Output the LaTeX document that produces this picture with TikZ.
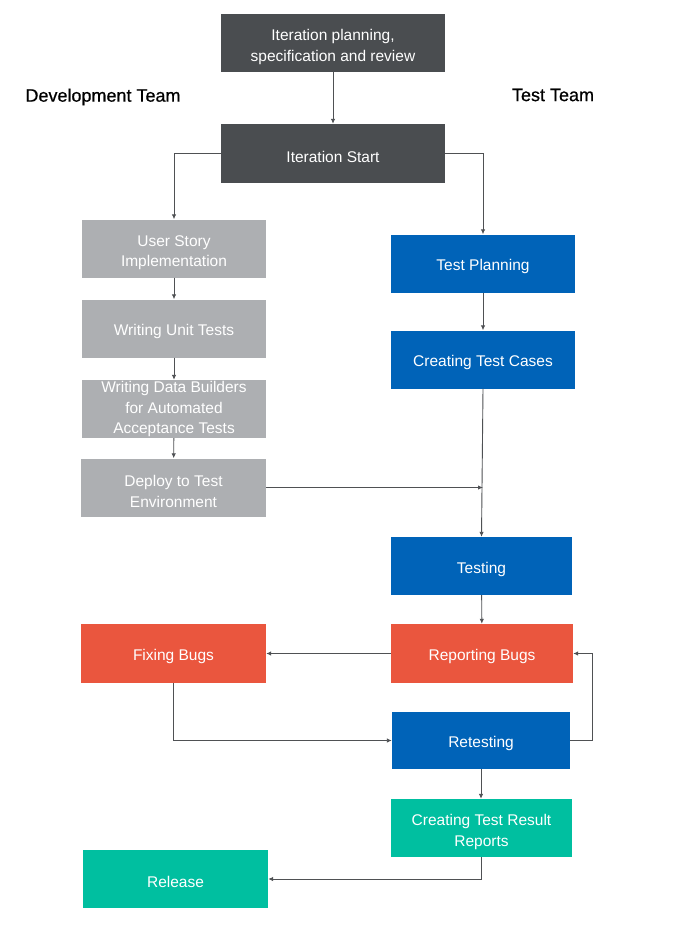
\documentclass[tikz,border=0pt]{standalone}
\usepackage{fontspec}
\setmainfont{Liberation Sans}
\usetikzlibrary{arrows.meta}
\definecolor{cdark}{HTML}{4A4D50}
\definecolor{cgray}{HTML}{ADAFB2}
\definecolor{cblue}{HTML}{0063B8}
\definecolor{cred}{HTML}{EA563E}
\definecolor{cteal}{HTML}{00BFA0}
\definecolor{cline}{HTML}{4F5154}
\newcommand{\upstrut}{\rule{0pt}{19.5pt}}
\begin{document}
\begin{tikzpicture}[x=1pt,y=-1pt,
  box/.style={draw=none,text=white,align=center,inner sep=0pt,
    font=\fontsize{15.5}{20.5}\selectfont,
    execute at begin node={\rule{0pt}{18pt}}},
  wide/.style={minimum width=184pt,minimum height=58pt},
  team/.style={font=\fontsize{18}{22}\selectfont\addfontfeature{FakeBold=0.6},text=black},
  conn/.style={draw=cline,line width=0.9pt,-{Latex[length=5pt,width=4.5pt]}}]
\useasboundingbox[fill=white] (0,0) rectangle (672,937);
\node[box,fill=cdark,minimum width=224pt,minimum height=58pt] (plan) at (333,43) {\upstrut Iteration planning,\\specification and review};
\node[box,fill=cdark,minimum width=224pt,minimum height=59pt] (start) at (333,153.5) {Iteration Start};
\node[team] (dev) at (103,97) {Development Team};
\node[team] (tt) at (553,95) {Test Team};
\node[box,wide,fill=cgray] (us) at (174,248.5) {\upstrut User Story\\Implementation};
\node[box,wide,fill=cgray] (wut) at (174,328.5) {Writing Unit Tests};
\node[box,wide,fill=cgray] (wdb) at (174,409) {Writing Data Builders\\for Automated\\Acceptance Tests};
\node[box,wide,fill=cgray,minimum width=185pt] (dep) at (173.5,487.5) {\upstrut Deploy to Test\\Environment};
\node[box,wide,fill=cblue] (tp) at (483,263.5) {Test Planning};
\node[box,wide,fill=cblue] (ctc) at (483,359.5) {Creating Test Cases};
\node[box,wide,fill=cblue,minimum width=181pt] (test) at (481.5,566) {Testing};
\node[box,wide,fill=cred,minimum width=182pt,minimum height=59pt] (rb) at (482,653.5) {Reporting Bugs};
\node[box,wide,fill=cred,minimum width=185pt,minimum height=59pt] (fb) at (173.5,653.5) {Fixing Bugs};
\node[box,wide,fill=cblue,minimum width=178pt,minimum height=57pt] (rt) at (481,740.5) {Retesting};
\node[box,wide,fill=cteal,minimum width=181pt] (ctr) at (481.5,828) {\upstrut Creating Test Result\\Reports};
\node[box,wide,fill=cteal,minimum width=185pt] (rel) at (175.5,879) {Release};
\coordinate (jn) at (ctc.south |- dep.east);
\draw[conn] (plan) -- (start);
\draw[conn] (start.west) -| (us.north);
\draw[conn] (start.east) -| (tp.north);
\draw[conn] (us) -- (wut);
\draw[conn] (wut) -- (wdb);
\draw[conn] (wdb) -- (dep);
\draw[conn] (tp) -- (ctc);
\draw[conn] (ctc.south) -- (test.north);
\draw[conn] (dep.east) -- (jn);
\draw[conn] (test) -- (rb);
\draw[conn] (rb.west) -- (fb.east);
\draw[conn] (fb.south) |- (rt.west);
\draw[conn] (rt.east) -- ++(22,0) |- (rb.east);
\draw[conn] (rt.south) -- (rt.south |- ctr.north);
\draw[conn] (ctr.south) |- (rel.east);
\end{tikzpicture}
\end{document}
